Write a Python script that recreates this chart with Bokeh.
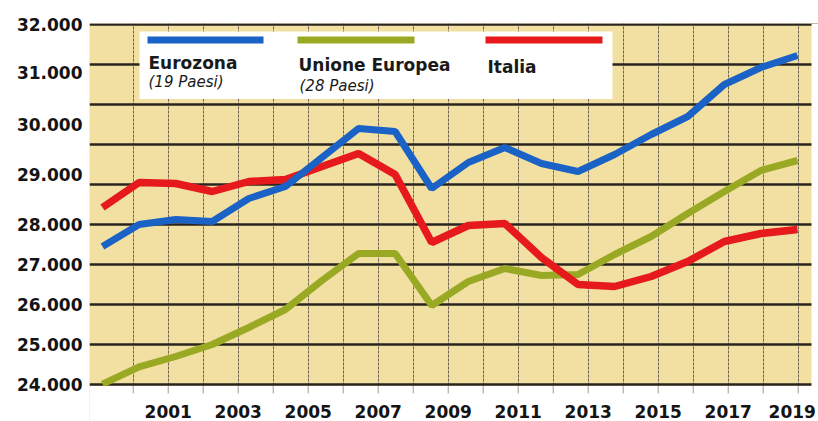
from bokeh.plotting import figure
from bokeh.models import Range1d, FixedTicker, BoxAnnotation, Label, LabelSet, ColumnDataSource
from bokeh.core.properties import value
from bokeh.embed import file_html
from bokeh.resources import INLINE

# ---------------- data ----------------
years = list(range(2000, 2020))
eurozona = [27450, 28000, 28125, 28075, 28650, 28950, 29675, 30400, 30325, 28900,
            29550, 29925, 29525, 29325, 29750, 30250, 30700, 31500, 31925, 32225]
unione_europea = [24010, 24440, 24700, 25000, 25425, 25875, 26600, 27275, 27275, 25975,
                  26575, 26900, 26725, 26750, 27250, 27700, 28275, 28825, 29350, 29600]
italia = [28425, 29050, 29025, 28825, 29075, 29125, 29450, 29775, 29250, 27550,
          27975, 28025, 27175, 26500, 26450, 26700, 27075, 27575, 27775, 27875]

x_label_years = [2001, 2003, 2005, 2007, 2009, 2011, 2013, 2015, 2017, 2019]
x_labels = ["2001", "2003", "2005", "2007", "2009", "2011", "2013", "2015", "2017", "2019"]
y_tick_labels = ["24.000", "25.000", "26.000", "27.000", "28.000",
                 "29.000", "30.000", "31.000", "32.000"]
y_grid_values = [24000, 25000, 26000, 27000, 28000, 29000, 30000, 31000, 32000, 33000]

series_names = ["Eurozona", "Unione Europea", "Italia"]
series_notes = ["(19 Paesi)", "(28 Paesi)", ""]

# ---------------- layout / style ----------------
W, H = 818, 421
FRAME_LEFT, FRAME_TOP = 89, 23
CHART_RIGHT = 811                              # right end of the yellow chart area
X_START = 1998.751                             # grid / tick scale: 35 px per year
X_END = X_START + (W - FRAME_LEFT) / 35.0
XD_START = 1999.6446                           # scale of the plotted series
XD_END = XD_START + (W - FRAME_LEFT) / 36.579
Y_END = 33025                                  # 25 units per px, frame reaches canvas bottom
Y_START = Y_END - (H - FRAME_TOP) * 25.0
# where the printed labels sit on the value scale
y_tick_positions = [24000, 25000, 26000, 27000, 28000, 29250, 30500, 31800, 33000]

BLUE = "#1b62c6"
GREEN = "#99a923"
RED = "#e61a1d"
BG = "#f1e0a2"
FONT = "DejaVu Sans"


def gx(px):
    return X_START + (px - FRAME_LEFT) / 35.0


def gy(py):
    return Y_END - (py - FRAME_TOP) * 25.0


p = figure(width=W, height=H, output_backend="svg", toolbar_location=None, title=None,
           x_range=Range1d(X_START, X_END), y_range=Range1d(Y_START, Y_END),
           x_axis_location=None,
           min_border_left=FRAME_LEFT, min_border_right=0,
           min_border_top=FRAME_TOP, min_border_bottom=0)
p.extra_x_ranges = {"data": Range1d(XD_START, XD_END)}

p.background_fill_color = BG
p.border_fill_color = "white"
p.outline_line_color = None

# grids
p.ygrid.ticker = FixedTicker(ticks=y_grid_values)
p.ygrid.grid_line_color = "#2a2420"
p.ygrid.grid_line_width = 2.5
p.xgrid.ticker = FixedTicker(ticks=years)
p.xgrid.grid_line_color = "#6f6453"
p.xgrid.grid_line_width = 1
p.xgrid.grid_line_dash = "3 1"

# y axis
p.yaxis.ticker = FixedTicker(ticks=y_tick_positions)
p.yaxis.major_label_overrides = {pos: lab for pos, lab in zip(y_tick_positions, y_tick_labels)}
p.yaxis.axis_line_color = None
p.yaxis.major_tick_out = 0
p.yaxis.major_tick_in = 0
p.yaxis.minor_tick_line_color = None
p.yaxis.major_label_standoff = 7
p.yaxis.major_label_text_font = FONT
p.yaxis.major_label_text_font_style = "bold"
p.yaxis.major_label_text_font_size = "17px"
p.yaxis.major_label_text_color = "#141414"

# white margins inside the frame: below the chart and right of it
p.add_layout(BoxAnnotation(bottom=Y_START, top=gy(385.6), fill_color="white",
                           fill_alpha=1, line_color=None))
p.add_layout(BoxAnnotation(left=gx(CHART_RIGHT), fill_color="white",
                           fill_alpha=1, line_color=None))

# small year ticks under the bottom line
p.segment(x0=years, x1=years, y0=gy(385.6), y1=gy(393), line_color="#a39b8e",
          line_width=1, level="overlay")

# series
p.line(years, unione_europea, x_range_name="data", line_width=7, color=GREEN)
p.line(years, italia, x_range_name="data", line_width=7.5, color=RED)
p.line(years, eurozona, x_range_name="data", line_width=7, color=BLUE)

# x tick labels
xsrc = ColumnDataSource(dict(x=x_label_years, text=x_labels,
                             y=[gy(417)] * len(x_labels),
                             off=[0] * (len(x_labels) - 1) + [-6]))
p.add_layout(LabelSet(x="x", y="y", text="text", source=xsrc, x_offset="off",
                      text_align="center", text_baseline="alphabetic",
                      text_font=value(FONT), text_font_style="bold", text_font_size="17px",
                      text_color="#141414"))

# legend box
p.add_layout(BoxAnnotation(left=gx(139), right=gx(612), top=gy(31), bottom=gy(98.5),
                           fill_color="white", fill_alpha=1, line_color=None))
bars = [(147, 263, BLUE), (297, 414, GREEN), (485, 602, RED)]
for l, r, c in bars:
    p.add_layout(BoxAnnotation(left=gx(l), right=gx(r), top=gy(36), bottom=gy(43),
                               fill_color=c, fill_alpha=1, line_color=None))

name_pos = [(148, 62.3), (298, 64.3), (487, 66.3)]
note_pos = [(148, 81.7), (299, 85), (487, 85)]
for name, note, (nx, ny), (tx, ty) in zip(series_names, series_notes, name_pos, note_pos):
    p.add_layout(Label(x=gx(nx), y=gy(ny), text=name, text_font=FONT, text_font_style="bold",
                       text_font_size="17px", text_color="#1a1a1a", text_baseline="alphabetic"))
    if note:
        p.add_layout(Label(x=gx(tx), y=gy(ty), text=note, text_font=FONT,
                           text_font_style="italic", text_font_size="15px",
                           text_color="#1a1a1a", text_baseline="alphabetic"))

open("out.html", "w").write(file_html(p, INLINE))
